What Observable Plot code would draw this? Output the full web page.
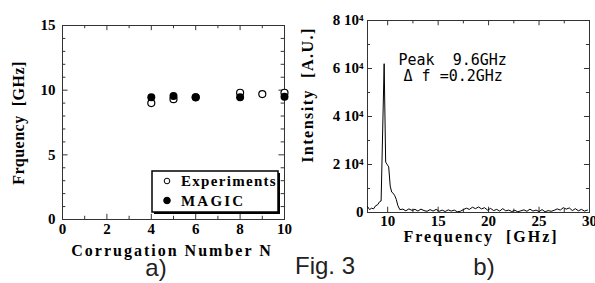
<!DOCTYPE html>
<html><head><meta charset="utf-8">
<script src="https://cdn.jsdelivr.net/npm/d3@7"></script>
<script src="https://cdn.jsdelivr.net/npm/@observablehq/plot@0.6"></script>
<style>
body{margin:0;background:#fff}
#wrap{position:relative;width:595px;height:283px;overflow:hidden;background:#fff}
#wrap > svg{position:absolute;top:0}
</style></head><body><div id="wrap"></div>
<script>
// ---- Panel a) data ----
const expN = [4, 5, 6, 8, 9, 10];
const expFreq = [9.0, 9.3, 9.45, 9.8, 9.7, 9.8];
const magicN = [4, 5, 6, 8, 10];
const magicFreq = [9.45, 9.55, 9.45, 9.45, 9.5];
const seriesNames = ["Experiments", "MAGIC"];
const xTicksA = [0, 2, 4, 6, 8, 10];
const yTicksA = [0, 5, 10, 15];

// ---- Panel b) data ----
const specFreq = [8.0, 8.2, 8.4, 8.6, 8.8, 9.0, 9.2, 9.35, 9.65, 9.8, 9.95, 10.1, 10.25, 10.4, 10.55, 10.7, 10.85, 11.0, 11.2,
  11.5, 11.8, 12.1, 12.4, 12.7, 13.0, 13.3, 13.6, 13.9, 14.2, 14.5, 14.8, 15.1, 15.4, 15.7, 16.0, 16.3, 16.6, 16.9, 17.2,
  17.5, 17.8, 18.1, 18.4, 18.7, 19.0, 19.3, 19.6, 19.9, 20.2, 20.5, 20.8, 21.1, 21.4, 21.7, 22.0, 22.3, 22.6, 22.9, 23.2,
  23.5, 23.8, 24.1, 24.4, 24.7, 25.0, 25.3, 25.6, 25.9, 26.2, 26.5, 26.8, 27.1, 27.4, 27.7, 28.0, 28.3, 28.6, 28.9, 29.2,
  29.5, 29.8];
const specIntensity = [2500, 1200, 1800, 1500, 2800, 3200, 4500, 4800, 62000, 21000, 20000, 19000, 11000, 8500, 8000, 7000, 5500, 3000, 1200,
  1400, 700, 1500, 900, 1300, 600, 1400, 800, 500, 1200, 600, 1300, 500, 1000, 400, 1100, 600, 1000, 300, 500,
  1200, 1800, 1300, 2200, 1600, 2300, 1500, 2000, 1000, 1700, 800, 1300, 600, 1600, 700, 1000, 400, 900, 300, 700,
  1100, 500, 1400, 600, 1000, 400, 1200, 300, 800, 500, 900, 1500, 1000, 2000, 1400, 1900, 800, 1600, 700, 1300,
  600, 1000];
const xTicksB = [10, 15, 20, 25, 30];
const yTicksB = [0, 20000, 40000, 60000, 80000];
const annotLines = ["Peak  9.6GHz", "Δ f =0.2GHz"];
const annotX = [11.07, 11.57];
const annotY = [63600, 56600];

const serif = "'Liberation Serif','Times New Roman',serif";
const wrap = document.getElementById("wrap");

const expData = expN.map((n, i) => ({N: n, f: expFreq[i]}));
const magicData = magicN.map((n, i) => ({N: n, f: magicFreq[i]}));
const spectrum = specFreq.map((f, i) => ({f, I: specIntensity[i]}));

const baseStyle = {fontFamily: serif, fontWeight: "bold", fontSize: "15px", background: "transparent", color: "#000", overflow: "visible"};

// ---- Panel a) ----
const left = Plot.plot({
  width: 300, height: 262, marginLeft: 62, marginRight: 16, marginTop: 25, marginBottom: 43,
  x: {domain: [0, 10]}, y: {domain: [0, 15]},
  style: baseStyle,
  marks: [
    Plot.ruleX(d3.range(0, 11), {x: d => d, y1: 0, y2: d => d % 2 === 0 ? 0.4 : 0.25, stroke: "#333"}),
    Plot.ruleX(d3.range(0, 11), {x: d => d, y1: 15, y2: d => 15 - (d % 2 === 0 ? 0.4 : 0.25), stroke: "#333"}),
    Plot.ruleY(d3.range(0, 16), {y: d => d, x1: 0, x2: d => d % 5 === 0 ? 0.25 : 0.15, stroke: "#333"}),
    Plot.ruleY(d3.range(0, 16), {y: d => d, x1: 10, x2: d => 10 - (d % 5 === 0 ? 0.25 : 0.15), stroke: "#333"}),
    Plot.frame({stroke: "#333"}),
    Plot.axisX({ticks: xTicksA, tickSize: 0, tickPadding: 4, label: null}),
    Plot.axisY({ticks: yTicksA, tickSize: 0, tickPadding: 7, label: null}),
    Plot.dot(expData, {x: "N", y: "f", r: 3.5, stroke: "#000", fill: "#fff", strokeWidth: 1.2}),
    Plot.dot(magicData, {x: "N", y: "f", r: 4, fill: "#000"})
  ]
});
left.style.left = "0px";
wrap.appendChild(left);

// legend inside panel a)
{
  const g = d3.select(left).append("g");
  g.append("rect").attr("x", 154).attr("y", 173).attr("width", 126).attr("height", 41).attr("fill", "#000");
  g.append("rect").attr("x", 152).attr("y", 171).attr("width", 126).attr("height", 41)
    .attr("fill", "#fff").attr("stroke", "#000").attr("stroke-width", 1.5);
  const rows = g.selectAll("g.row").data(seriesNames).join("g")
    .attr("transform", (d, i) => `translate(0,${181 + i * 19.5})`);
  rows.append("circle").attr("cx", 167).attr("cy", 0).attr("r", (d, i) => i === 0 ? 2.8 : 3.3)
    .attr("fill", (d, i) => i === 0 ? "#fff" : "#000").attr("stroke", "#000").attr("stroke-width", 1);
  rows.append("text").attr("x", 181).attr("y", 5).text(d => d)
    .attr("text-anchor", "start")
    .attr("font-family", serif).attr("font-weight", "bold").attr("font-size", 15)
    .attr("letter-spacing", (d, i) => i === 0 ? 1.3 : 2.2);
}

// ---- Panel b) ----
const right = Plot.plot({
  width: 295, height: 262, marginLeft: 67, marginRight: 6, marginTop: 20, marginBottom: 50,
  x: {domain: [8, 30]}, y: {domain: [0, 80000]},
  style: baseStyle,
  marks: [
    Plot.ruleX(d3.range(10, 31, 2.5), {x: d => d, y1: 0, y2: d => d % 5 === 0 ? 2200 : 1400, stroke: "#333"}),
    Plot.ruleX(d3.range(10, 31, 2.5), {x: d => d, y1: 80000, y2: d => 80000 - (d % 5 === 0 ? 2200 : 1400), stroke: "#333"}),
    Plot.ruleY(d3.range(0, 80001, 10000), {y: d => d, x1: 8, x2: d => d % 20000 === 0 ? 8.5 : 8.3, stroke: "#333"}),
    Plot.ruleY(d3.range(0, 80001, 10000), {y: d => d, x1: 30, x2: d => 30 - (d % 20000 === 0 ? 0.5 : 0.3), stroke: "#333"}),
    Plot.frame({stroke: "#333"}),
    Plot.axisX({ticks: xTicksB, tickSize: 0, tickPadding: 3, label: null}),
    Plot.axisY({ticks: yTicksB, tickSize: 0, tickPadding: 4, label: null,
      tickFormat: d => d === 0 ? "0" : `${d / 10000} 10⁴`}),
    Plot.line(spectrum, {x: "f", y: "I", stroke: "#000", strokeWidth: 1}),
    Plot.text(annotLines, {x: (d, i) => annotX[i], y: (d, i) => annotY[i], text: d => d,
      textAnchor: "start", fontFamily: "'DejaVu Sans Mono', monospace", fontWeight: "normal", fontSize: 15, fill: "#000"})
  ]
});
right.style.left = "300px";
wrap.appendChild(right);

// ---- overlay: axis titles and captions ----
const ov = d3.select(wrap).append("svg").attr("width", 595).attr("height", 283)
  .style("left", "0px").style("pointer-events", "none");
const titles = [
  {t: "Corrugation Number N", x: 172, y: 256, r: 0, ls: 2},
  {t: "Frquency  [GHz]", x: 24, y: 123, r: -90, ls: 0.5},
  {t: "Frequency  [GHz]", x: 481, y: 242, r: 0, ls: 2},
  {t: "Intensity  [A.U.]", x: 313, y: 95, r: -90, ls: 1.5}
];
ov.selectAll("text.title").data(titles).join("text")
  .attr("transform", d => `translate(${d.x},${d.y}) rotate(${d.r})`)
  .attr("text-anchor", "middle").attr("font-family", serif).attr("font-weight", "bold")
  .attr("font-size", 16).attr("letter-spacing", d => d.ls).attr("xml:space", "preserve")
  .style("white-space", "pre").text(d => d.t);
const captions = [
  {t: "a)", x: 156, y: 276},
  {t: "Fig. 3", x: 325, y: 274},
  {t: "b)", x: 484, y: 275}
];
ov.selectAll("text.cap").data(captions).join("text")
  .attr("x", d => d.x).attr("y", d => d.y).attr("text-anchor", "middle")
  .attr("font-family", "'Liberation Sans', Arial, sans-serif").attr("font-size", 24).attr("fill", "#222")
  .text(d => d.t);
</script>
</body></html>
